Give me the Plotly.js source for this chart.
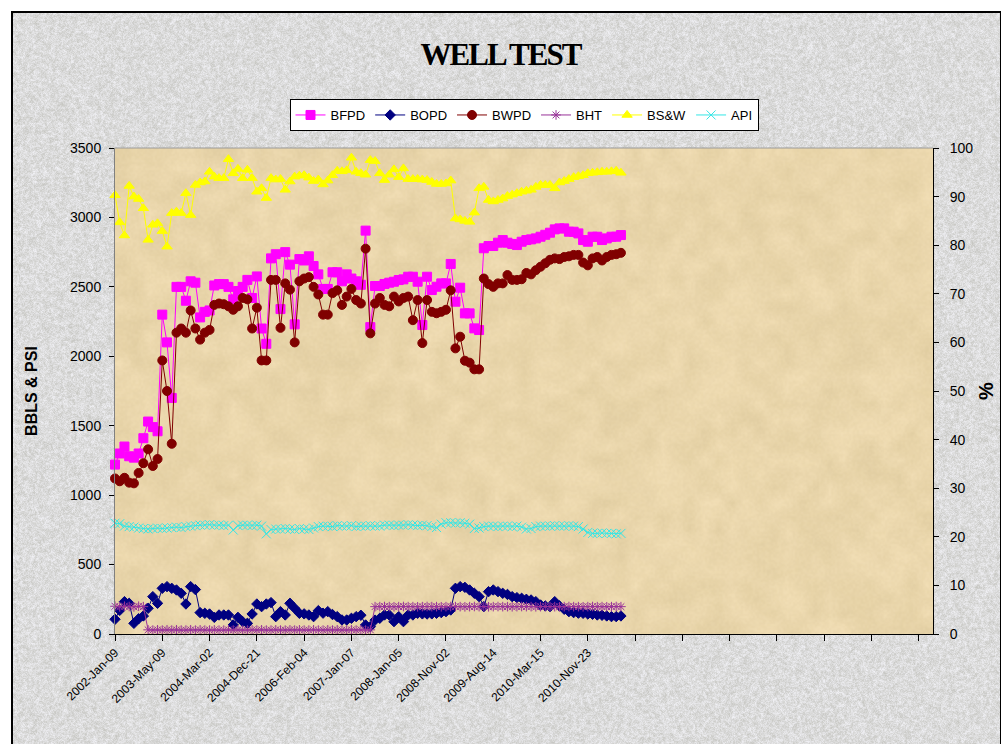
<!DOCTYPE html>
<html>
<head>
<meta charset="utf-8">
<script src="https://cdn.plot.ly/plotly-3.0.1.min.js"></script>
<style>
  html, body { margin: 0; padding: 0; background: #fff; overflow: hidden; }
  #frame { position: absolute; left: 11px; top: 11px; width: 987px; height: 780px; border: 2px solid #000; }
  #plotbg { position: absolute; left: 115px; top: 148px; width: 818px; height: 486px; }
  #chart { position: absolute; left: 0; top: 0; width: 1001px; height: 744px; }
  .gtitle { letter-spacing: -2px; }
</style>
</head>
<body>
<div id="frame"></div>
<div id="plotbg"></div>
<div id="chart"></div>
<script>
// well test readings, one value per test (category index along x)
const BFPD = [
  1220, 1300, 1350, 1280, 1270, 1300, 1410, 1530, 1490, 1460,
  2300, 2100, 1700, 2500, 2500, 2400, 2540, 2530, 2280, 2320,
  2330, 2510, 2520, 2520, 2500, 2410, 2470, 2500, 2550, 2420,
  2575, 2200, 2090, 2705, 2735, 2340, 2750, 2660, 2230, 2700,
  2690, 2720, 2650, 2590, 2485, 2485, 2605, 2605, 2540, 2590,
  2560, 2540, 2515, 2905, 2210, 2506, 2506, 2521, 2530, 2537,
  2549, 2554, 2573, 2573, 2537, 2225, 2573, 2477, 2501, 2525,
  2525, 2665, 2393, 2494, 2309, 2309, 2201, 2189, 2778, 2794,
  2794, 2818, 2837, 2818, 2809, 2801, 2825, 2837, 2842, 2849,
  2861, 2875, 2890, 2914, 2921, 2921, 2897, 2897, 2885, 2837,
  2825, 2861, 2861, 2837, 2849, 2861, 2861, 2873
];
const BOPD = [
  106, 170, 233, 221, 77, 110, 130, 185, 269, 221,
  329, 341, 329, 317, 293, 216, 341, 320, 154, 149,
  144, 120, 137, 137, 137, 65, 120, 89, 77, 144,
  216, 197, 216, 226, 125, 161, 137, 221, 185, 149,
  145, 137, 125, 168, 150, 161, 140, 125, 101, 101,
  113, 125, 135, 65, 53, 100, 113, 137, 137, 89,
  125, 89, 137, 137, 149, 145, 144, 145, 149, 154,
  161, 173, 329, 341, 336, 317, 293, 269, 197, 305,
  317, 305, 293, 285, 269, 262, 257, 250, 245, 233,
  209, 202, 197, 233, 202, 178, 161, 154, 150, 149,
  144, 142, 137, 135, 130, 125, 125, 130
];
const BWPD = [
  1120, 1100, 1125, 1090, 1085, 1160, 1230, 1330, 1210, 1260,
  1970, 1750, 1370, 2170, 2200, 2170, 2330, 2200, 2120, 2170,
  2190, 2370, 2380, 2375, 2360, 2335, 2360, 2420, 2410, 2200,
  2350, 1970, 1970, 2550, 2550, 2205, 2525, 2480, 2100, 2540,
  2560, 2570, 2500, 2445, 2300, 2300, 2455, 2475, 2370, 2430,
  2485, 2405, 2380, 2775, 2165, 2380, 2420, 2370, 2360, 2430,
  2395, 2420, 2430, 2260, 2405, 2095, 2405, 2320, 2310, 2320,
  2335, 2475, 2057, 2141, 1968, 1954, 1906, 1906, 2560, 2520,
  2500, 2525, 2525, 2585, 2550, 2550, 2555, 2600, 2590, 2620,
  2645, 2670, 2695, 2705, 2700, 2715, 2720, 2730, 2730, 2675,
  2655, 2705, 2715, 2690, 2715, 2730, 2735, 2745
];
const BHT = [
  200, 195, 200, 198, 195, 200, 197, 30, 28, 30,
  28, 30, 28, 30, 28, 28, 30, 28, 30, 28,
  28, 30, 28, 28, 30, 28, 30, 28, 28, 30,
  28, 30, 28, 28, 30, 28, 28, 30, 28, 30,
  28, 28, 30, 28, 28, 30, 28, 30, 28, 28,
  30, 28, 30, 28, 30, 197, 197, 198, 197, 196,
  197, 198, 197, 197, 196, 197, 198, 197, 197, 196,
  197, 198, 197, 197, 196, 197, 198, 197, 197, 196,
  197, 198, 197, 197, 196, 197, 198, 197, 197, 196,
  197, 198, 197, 197, 196, 197, 198, 197, 197, 196,
  197, 198, 197, 197, 196, 197, 198, 197
];
const BSW = [
  90.3, 84.7, 82.0, 92.2, 90.0, 89.5, 87.6, 81.1, 84.2, 84.5,
  82.9, 79.7, 86.6, 86.9, 86.6, 90.7, 86.2, 92.4, 92.9, 93.1,
  95.1, 94.1, 93.8, 93.8, 97.7, 94.8, 95.7, 93.8, 95.5, 93.8,
  91.0, 91.7, 89.7, 93.8, 93.5, 93.6, 91.4, 93.1, 94.1, 94.3,
  94.4, 93.9, 93.2, 93.5, 92.5, 93.3, 94.4, 95.3, 95.2, 95.4,
  98.0, 95.1, 94.8, 94.5, 97.5, 97.3, 94.8, 93.4, 94.5, 95.6,
  94.0, 95.8, 93.6, 93.6, 93.6, 93.5, 93.4, 93.0, 92.6, 92.6,
  92.7, 93.3, 85.5, 85.3, 85.0, 84.8, 86.7, 91.7, 92.0, 89.3,
  89.0, 89.3, 89.6, 90.1, 90.4, 90.7, 91.0, 91.2, 91.4, 92.0,
  92.4, 92.4, 92.4, 91.7, 92.9, 93.2, 93.6, 94.0, 94.2, 94.4,
  94.8, 94.9, 95.0, 95.1, 95.1, 95.2, 95.3, 94.9
];
const API = [
  22.8, 22.7, 22.2, 22.1, 22.0, 21.8, 21.7, 21.6, 21.7, 21.8,
  21.7, 21.8, 21.9, 22.0, 21.9, 22.1, 22.2, 22.3, 22.4, 22.4,
  22.5, 22.4, 22.4, 22.3, 22.4, 21.4, 22.3, 22.4, 22.4, 22.3,
  22.4, 22.2, 20.6, 21.5, 21.6, 21.6, 21.7, 21.6, 21.5, 21.7,
  21.6, 21.5, 21.8, 22.1, 22.2, 22.2, 22.1, 22.3, 22.2, 22.2,
  22.3, 22.1, 22.2, 22.2, 22.3, 22.2, 22.2, 22.4, 22.4, 22.3,
  22.4, 22.4, 22.5, 22.4, 22.3, 22.4, 22.3, 22.1, 21.9, 22.6,
  22.9, 22.9, 22.8, 22.9, 22.8, 22.6, 21.7, 21.8, 22.1, 22.2,
  22.2, 22.1, 22.2, 22.2, 22.1, 22.2, 22.0, 21.6, 21.7, 22.1,
  22.2, 22.2, 22.2, 22.3, 22.2, 22.2, 22.3, 22.2, 22.1, 21.6,
  20.9, 20.7, 20.7, 20.8, 20.7, 20.7, 20.6, 20.7
];

// x axis: one label every 10 tests, the sheet range runs on with empty rows
const tickLabels = [
  '2002-Jan-09', '2003-May-09', '2004-Mar-02', '2004-Dec-21', '2006-Feb-04',
  '2007-Jan-07', '2008-Jan-05', '2008-Nov-02', '2009-Aug-14', '2010-Mar-15', '2010-Nov-23'
];
const categoryCount = 174;
const labelStep = 10;

const idx = BFPD.map((v, i) => i);
const tickVals = [];
const tickText = [];
for (let i = 0; i < categoryCount; i += labelStep) {
  tickVals.push(i);
  tickText.push(tickLabels[i / labelStep] || '');
}

// paper-like textures for the backgrounds
function texture(w, h, cell, base, amp, seed) {
  const small = document.createElement('canvas');
  const sw = Math.ceil(w / cell), sh = Math.ceil(h / cell);
  small.width = sw;
  small.height = sh;
  const sctx = small.getContext('2d');
  const img = sctx.createImageData(sw, sh);
  let s = seed;
  for (let i = 0; i < sw * sh; i++) {
    s = (s * 16807) % 2147483647;
    const n = (s / 2147483647 - 0.5) * amp;
    img.data[i * 4] = base[0] + n;
    img.data[i * 4 + 1] = base[1] + n;
    img.data[i * 4 + 2] = base[2] + n * 1.2;
    img.data[i * 4 + 3] = 255;
  }
  sctx.putImageData(img, 0, 0);
  return small;
}

function paint(w, h, layers) {
  const c = document.createElement('canvas');
  c.width = w;
  c.height = h;
  const ctx = c.getContext('2d');
  ctx.imageSmoothingEnabled = true;
  layers.forEach(l => {
    ctx.globalAlpha = l.alpha;
    ctx.drawImage(texture(w, h, l.cell, l.base, l.amp, l.seed), 0, 0, w, h);
  });
  return c.toDataURL();
}

document.getElementById('frame').style.backgroundImage = 'url(' + paint(990, 780, [
  { cell: 2, base: [218, 218, 218], amp: 55, seed: 7, alpha: 1 },
  { cell: 1, base: [222, 222, 222], amp: 40, seed: 11, alpha: 0.5 }
]) + ')';
document.getElementById('plotbg').style.backgroundImage = 'url(' + paint(818, 486, [
  { cell: 14, base: [233, 213, 170], amp: 22, seed: 3, alpha: 1 },
  { cell: 2, base: [235, 216, 174], amp: 14, seed: 5, alpha: 0.45 }
]) + ')';

const font = 'Liberation Sans, Arial, sans-serif';

function series(name, y, color, symbol, size, axis) {
  return {
    x: idx,
    y: y,
    name: name,
    type: 'scatter',
    mode: 'lines+markers',
    yaxis: axis,
    cliponaxis: false,
    line: { color: color, width: 1 },
    marker: { symbol: symbol, size: size, color: color, line: { color: color, width: 1 } },
  };
}

const data = [
  series('BFPD', BFPD, '#ff00ff', 'square', 9, 'y'),
  series('BOPD', BOPD, '#000080', 'diamond', 8, 'y'),
  series('BWPD', BWPD, '#800000', 'circle', 9, 'y'),
  series('BHT', BHT, '#993399', 'asterisk-open', 8, 'y'),
  series('BS&W', BSW, '#ffff00', 'triangle-up', 9, 'y2'),
  series('API', API, '#33e6e6', 'x-thin-open', 9, 'y2'),
];

const layout = {
  width: 1001,
  height: 744,
  margin: { l: 115, r: 68, t: 148, b: 110 },
  paper_bgcolor: 'rgba(0,0,0,0)',
  plot_bgcolor: 'rgba(0,0,0,0)',
  font: { family: font, color: '#000' },
  title: {
    text: 'WELL TEST',
    font: { family: 'Liberation Serif, Times New Roman, serif', size: 31, weight: 'bold', color: '#000' },
    x: 0.5,
    xref: 'container',
    y: 1 - 54 / 744,
    yanchor: 'middle',
  },
  showlegend: true,
  legend: {
    orientation: 'h',
    x: 0.5,
    xanchor: 'center',
    y: 1.1008,
    yanchor: 'top',
    bgcolor: '#ffffff',
    bordercolor: '#000000',
    borderwidth: 1,
    font: { family: font, size: 13, color: '#000' },
  },
  xaxis: {
    range: [0, categoryCount - 1],
    tickmode: 'array',
    tickvals: tickVals,
    ticktext: tickText,
    tickangle: -45,
    ticks: 'outside',
    ticklen: 6,
    tickcolor: '#000',
    tickfont: { family: font, size: 12, color: '#000' },
    showline: true,
    linecolor: '#000',
    linewidth: 1,
    showgrid: false,
    zeroline: false,
  },
  yaxis: {
    range: [0, 3500],
    tick0: 0,
    dtick: 500,
    ticks: 'outside',
    ticklen: 5,
    tickcolor: '#000',
    ticklabelstandoff: 5,
    tickfont: { family: font, size: 14, color: '#000' },
    showline: true,
    linecolor: '#808080',
    showgrid: false,
    zeroline: false,
    title: { text: 'BBLS & PSI', font: { family: font, size: 16, weight: 'bold' }, standoff: 28 },
  },
  yaxis2: {
    overlaying: 'y',
    side: 'right',
    range: [0, 100],
    tick0: 0,
    dtick: 10,
    ticks: 'outside',
    ticklen: 5,
    tickcolor: '#000',
    ticklabelstandoff: 8,
    tickfont: { family: font, size: 14, color: '#000' },
    showline: true,
    linecolor: '#000',
    showgrid: false,
    zeroline: false,
    title: { text: '%', font: { family: font, size: 20, weight: 'bold' }, standoff: 6 },
  },
  shapes: [
    { type: 'line', xref: 'paper', yref: 'paper', x0: 0, x1: 1, y0: 1, y1: 1, line: { color: '#9a9a9a', width: 1 } },
  ],
};

Plotly.newPlot('chart', data, layout, { staticPlot: true });
</script>
</body>
</html>
